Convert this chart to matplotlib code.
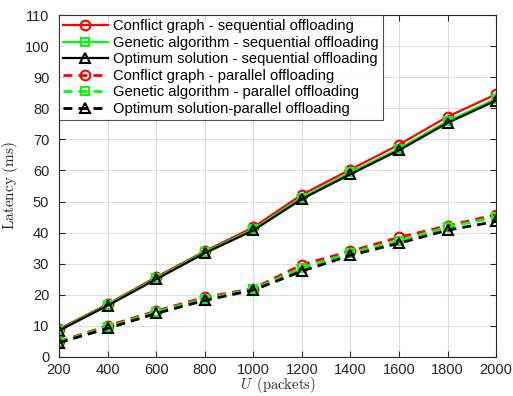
import matplotlib
matplotlib.use("Agg")
import matplotlib.pyplot as plt

U = [200, 400, 600, 800, 1000, 1200, 1400, 1600, 1800, 2000]
cg_seq = [9.0, 17.0, 25.7, 34.0, 41.7, 52.2, 60.3, 68.3, 77.3, 84.5]
ga_seq = [8.7, 16.8, 25.3, 33.7, 41.1, 51.3, 59.4, 67.0, 75.9, 83.0]
opt_seq = [8.5, 16.5, 25.0, 33.4, 40.7, 50.8, 58.8, 66.5, 75.3, 82.5]
cg_par = [5.0, 10.0, 14.8, 19.2, 22.0, 29.7, 34.0, 38.5, 42.2, 45.8]
ga_par = [4.9, 9.6, 14.5, 18.7, 21.8, 28.6, 33.5, 37.3, 41.8, 45.0]
opt_par = [4.6, 9.2, 14.0, 18.2, 21.5, 27.6, 32.7, 36.6, 40.8, 43.6]

labels = [
    "Conflict graph - sequential offloading",
    "Genetic algorithm - sequential offloading",
    "Optimum solution - sequential offloading",
    "Conflict graph - parallel offloading",
    "Genetic algorithm - parallel offloading",
    "Optimum solution-parallel offloading",
]

plt.rcParams['font.family'] = ['Liberation Sans', 'DejaVu Sans']
plt.rcParams['mathtext.fontset'] = 'cm'

fig = plt.figure(figsize=(5.13, 3.96), dpi=100)
ax = fig.add_axes([0.115, 0.0985, 0.852, 0.8635])

lw = 1.6
ms = 7
dash = (3.2, 2.2)
ax.plot(U, cg_seq, '-', color='#ff0000', marker='o', mfc='none', mew=1.5, ms=ms, lw=lw, label=labels[0])
ax.plot(U, ga_seq, '-', color='#00ff00', marker='s', mfc='none', mew=1.5, ms=6, lw=lw, label=labels[1])
ax.plot(U, opt_seq, '-', color='black', marker='^', mfc='none', mew=1.5, ms=ms, lw=lw, label=labels[2])
ax.plot(U, cg_par, '--', dashes=dash, color='#ff0000', marker='o', mfc='none', mew=1.5, ms=ms, lw=lw + 0.4, label=labels[3])
ax.plot(U, ga_par, '--', dashes=dash, color='#00ff00', marker='s', mfc='none', mew=1.5, ms=6, lw=lw + 0.4, label=labels[4])
ax.plot(U, opt_par, '--', dashes=dash, color='black', marker='^', mfc='none', mew=1.5, ms=ms, lw=lw + 0.4, label=labels[5])

ax.set_xlim(200, 2000)
ax.set_ylim(0, 110)
ax.set_xticks(range(200, 2001, 200))
ax.set_yticks(range(0, 111, 10))
ax.tick_params(direction='in', top=True, right=True, labelsize=10.5, colors='#262626', length=4)
ax.tick_params(axis='y', pad=7)
ax.tick_params(axis='x', pad=4)
ax.grid(True, color='#dedede', lw=0.8)
ax.set_axisbelow(True)
for s in ax.spines.values():
    s.set_color('#262626')
    s.set_linewidth(0.8)

ax.set_xlabel(r'$U\ \,\mathrm{(packets)}$', fontsize=10.5, color='#262626', labelpad=-1)
ax.set_ylabel(r'$\mathrm{Latency\ (ms)}$', fontsize=11, color='#262626', labelpad=3)

leg = ax.legend(loc='upper left', fontsize=10.6, frameon=True, fancybox=False,
                edgecolor='#262626', borderaxespad=0, handlelength=3.0,
                handletextpad=0.35, labelspacing=0.17, borderpad=0.3)
leg.get_frame().set_linewidth(0.8)

fig.savefig('out.png', dpi=100)
